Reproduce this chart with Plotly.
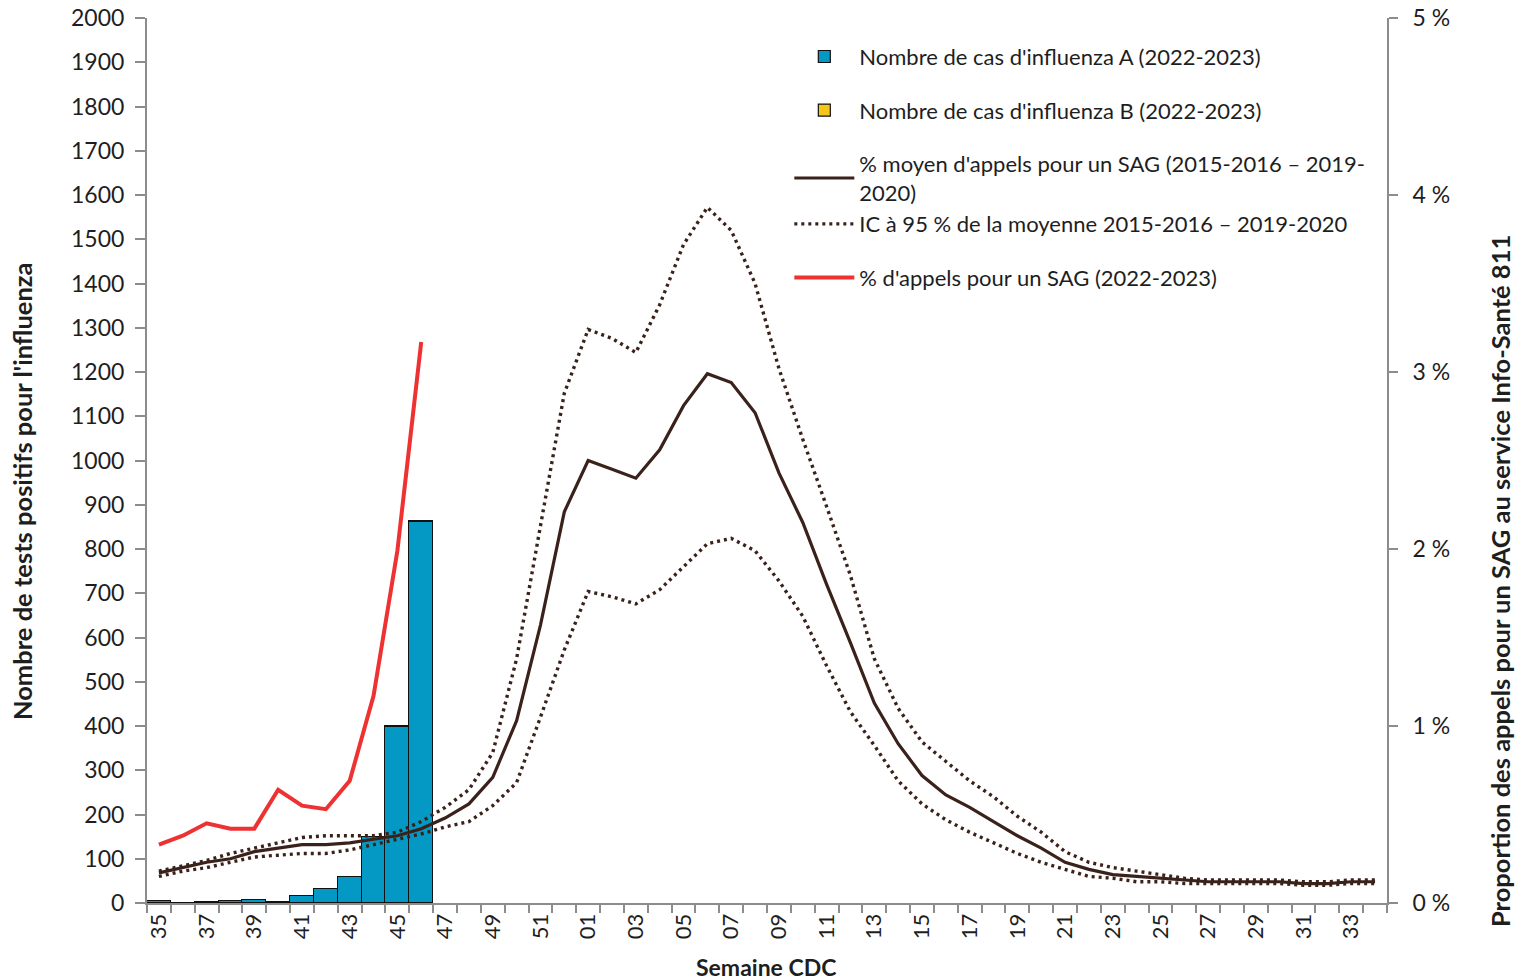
import plotly.graph_objects as go

weeks = [str(w) for w in range(35, 53)] + [f"{w:02d}" for w in range(1, 35)]

flu_a = [5, 0, 3, 5, 6, 3, 16, 32, 59, 149, 398, 861]
flu_b = [0, 0, 0, 0, 0, 0, 0, 0, 0, 1, 3, 2]
sag_2022 = [0.33, 0.38, 0.45, 0.42, 0.42, 0.64, 0.55, 0.53, 0.69, 1.17, 1.99, 3.17]

sag_mean = [0.17, 0.20, 0.23, 0.25, 0.29, 0.31, 0.33, 0.33, 0.34, 0.36, 0.38, 0.42, 0.48, 0.56,
            0.71, 1.03, 1.57, 2.21,
            2.50, 2.45, 2.40, 2.56, 2.81, 2.99, 2.94, 2.77, 2.43, 2.15, 1.80, 1.47, 1.13, 0.90,
            0.72, 0.61, 0.54, 0.46, 0.38, 0.31, 0.23, 0.19, 0.16, 0.15, 0.14, 0.13, 0.12, 0.12,
            0.12, 0.12, 0.11, 0.11, 0.12, 0.12]
ci_upper = [0.18, 0.21, 0.24, 0.28, 0.31, 0.34, 0.37, 0.38, 0.38, 0.38, 0.40, 0.46, 0.54, 0.64,
            0.85, 1.38, 2.13, 2.88,
            3.24, 3.19, 3.11, 3.38, 3.72, 3.93, 3.80, 3.50, 3.02, 2.62, 2.24, 1.85, 1.38, 1.10,
            0.91, 0.80, 0.69, 0.60, 0.49, 0.40, 0.29, 0.23, 0.20, 0.18, 0.16, 0.14, 0.13, 0.13,
            0.13, 0.13, 0.12, 0.12, 0.13, 0.13]
ci_lower = [0.15, 0.18, 0.20, 0.23, 0.26, 0.27, 0.28, 0.28, 0.30, 0.33, 0.36, 0.39, 0.43, 0.46,
            0.55, 0.68, 1.05, 1.43,
            1.76, 1.73, 1.69, 1.77, 1.90, 2.03, 2.06, 1.99, 1.82, 1.62, 1.34, 1.08, 0.89, 0.69,
            0.56, 0.47, 0.40, 0.34, 0.28, 0.23, 0.19, 0.15, 0.14, 0.12, 0.12, 0.11, 0.11, 0.11,
            0.11, 0.11, 0.10, 0.10, 0.11, 0.11]

tick_text = [w if i % 2 == 0 else "" for i, w in enumerate(weeks)]

x_title = "Semaine CDC"
y_title = "Nombre de tests positifs pour l'influenza"
y2_title = "Proportion des appels pour un SAG au service Info-Santé 811"

FONT = "Lato"
BROWN = "#3a221b"
AXIS = "#8c8c8c"
TXT = "#1e1e1e"

fig = go.Figure()
fig.add_trace(go.Bar(x=weeks[:len(flu_a)], y=flu_a, name="Nombre de cas d'influenza A (2022-2023)",
                     marker=dict(color="#0399c4", line=dict(color="#111111", width=1.2)),
                     legendgroup="a"))
fig.add_trace(go.Bar(x=weeks[:len(flu_b)], y=flu_b, name="Nombre de cas d'influenza B (2022-2023)",
                     marker=dict(color="#f6c619", line=dict(color="#111111", width=1.2)),
                     legendgroup="b"))
fig.add_trace(go.Scatter(x=weeks, y=sag_mean, yaxis="y2", mode="lines",
                         name="% moyen d'appels pour un SAG (2015-2016 – 2019-<br>2020)",
                         line=dict(color=BROWN, width=3.2), legendgroup="c"))
fig.add_trace(go.Scatter(x=weeks, y=ci_upper, yaxis="y2", mode="lines",
                         name="IC à 95 % de la moyenne 2015-2016 – 2019-2020",
                         line=dict(color=BROWN, width=3.4, dash="3px,4px"), legendgroup="c"))
fig.add_trace(go.Scatter(x=weeks, y=ci_lower, yaxis="y2", mode="lines", showlegend=False,
                         name="IC inférieur",
                         line=dict(color=BROWN, width=3.4, dash="3px,4px"), legendgroup="c"))
fig.add_trace(go.Scatter(x=weeks[:len(sag_2022)], y=sag_2022, yaxis="y2", mode="lines",
                         name="% d'appels pour un SAG (2022-2023)",
                         line=dict(color="#ee3131", width=4), legendgroup="d"))

fig.update_layout(
    width=1520, height=980,
    margin=dict(l=147, r=133, t=18, b=77),
    paper_bgcolor="white", plot_bgcolor="white",
    font=dict(family=FONT, size=22, color=TXT),
    barmode="stack", bargap=0,
    showlegend=True,
    legend=dict(x=0.518, y=0.980, xanchor="left", yanchor="top",
                font=dict(size=22, color=TXT), tracegroupgap=22,
                bgcolor="rgba(0,0,0,0)", itemwidth=60, traceorder="grouped"),
    xaxis=dict(type="category", categoryorder="array", categoryarray=weeks,
               range=[-0.5, len(weeks) - 0.5], automargin=False,
               tickmode="array", tickvals=weeks, ticktext=tick_text, tickson="boundaries",
               tickangle=-90, ticks="outside", ticklen=8, tickcolor=AXIS, tickwidth=1.5,
               showline=True, linecolor=AXIS, linewidth=2, showgrid=False,
               tickfont=dict(size=22)),
    yaxis=dict(range=[0, 2000], dtick=100, tick0=0, ticks="outside", ticklen=10,
               tickcolor=AXIS, tickwidth=1.5, showline=True, linecolor=AXIS, linewidth=2,
               showgrid=False, zeroline=False, tickfont=dict(size=23), automargin=False,
               ticklabelstandoff=6),
    yaxis2=dict(range=[0, 5], dtick=1, tick0=0, overlaying="y", side="right",
                ticksuffix=" %", ticks="outside", ticklen=9, tickcolor=AXIS, tickwidth=1.5,
                showline=True, linecolor=AXIS, linewidth=2, showgrid=False, zeroline=False,
                tickfont=dict(size=23), automargin=False, ticklabelstandoff=10),
    annotations=[
        dict(text=f"<b>{x_title}</b>", xref="paper", yref="paper", x=0.4995, y=-0.0723,
             xanchor="center", yanchor="middle", showarrow=False, font=dict(size=23)),
        dict(text=f"<b>{y_title}</b>", xref="paper", yref="paper", x=-0.1008, y=0.4655,
             xanchor="center", yanchor="middle", textangle=-90, showarrow=False,
             font=dict(size=25.5)),
        dict(text=f"<b>{y2_title}</b>", xref="paper", yref="paper", x=1.0911, y=0.3638,
             xanchor="center", yanchor="middle", textangle=-90, showarrow=False,
             font=dict(size=25.5)),
    ],
)

fig.write_html("out.html")
